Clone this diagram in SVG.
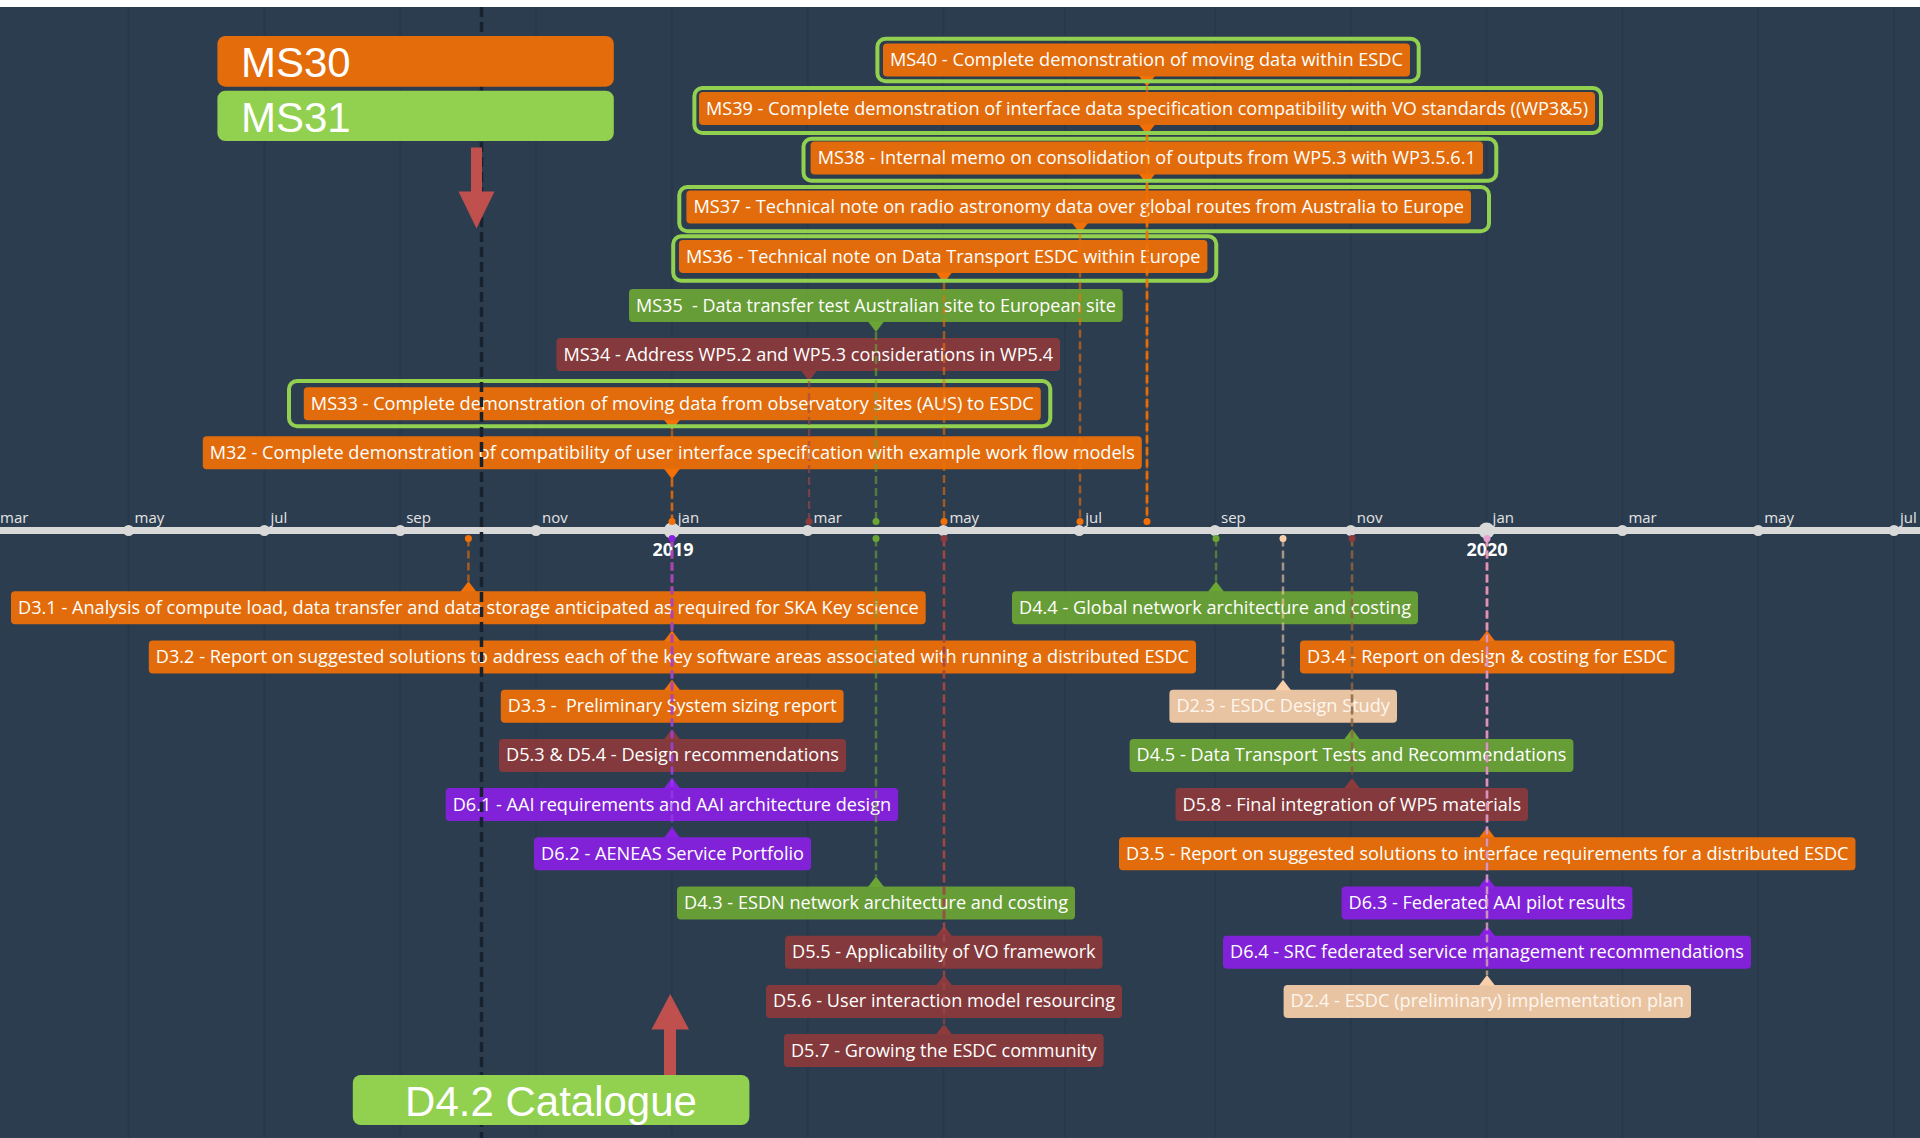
<svg xmlns="http://www.w3.org/2000/svg" width="1920" height="1138" viewBox="0 0 1920 1138">
<style>
.grid{stroke:#27384b;stroke-width:1.5}
.box{fill-opacity:.92}
.o{fill:#f27005}.g{fill:#6ba534}.r{fill:#8c3a3b}.p{fill:#8a20e4}.k{fill:#f9cfaa}
.so{stroke:#f27005}.sg{stroke:#6ba534}.sr{stroke:#a04848}.sp{stroke:#a040ee}.sk{stroke:#f9cfaa}
.lbl{font-family:"Open Sans","DejaVu Sans",sans-serif;font-size:17.5px;fill:#ffffff;text-anchor:middle;white-space:pre}
.lk{fill:#fff6ee}
.hl{fill:none;stroke:#92d050;stroke-width:4}
.conn{stroke-width:2.5;stroke-dasharray:8 4;opacity:.6;fill:none}
.mon{font-family:"Open Sans","DejaVu Sans",sans-serif;font-size:15px;fill:#e4e4e4}
.yr{font-family:"Open Sans","DejaVu Sans",sans-serif;font-size:18px;font-weight:bold;fill:#ffffff;text-anchor:middle}
.tick{fill:#d9d9d9}
.big{font-family:"Liberation Sans",Arial,sans-serif;font-size:42px;fill:#ffffff}
.arrow{fill:#c0504d}
</style>
<rect x="0" y="0" width="1920" height="1138" fill="#2c3d50"/>
<rect x="0" y="0" width="1920" height="7" fill="#ffffff"/>
<g id="grid">
<line class="grid" x1="128.6" y1="7" x2="128.6" y2="1138"/>
<line class="grid" x1="264.4" y1="7" x2="264.4" y2="1138"/>
<line class="grid" x1="400.2" y1="7" x2="400.2" y2="1138"/>
<line class="grid" x1="536" y1="7" x2="536" y2="1138"/>
<line class="grid" x1="671.8" y1="7" x2="671.8" y2="1138"/>
<line class="grid" x1="807.6" y1="7" x2="807.6" y2="1138"/>
<line class="grid" x1="943.4" y1="7" x2="943.4" y2="1138"/>
<line class="grid" x1="1065" y1="7" x2="1065" y2="1138"/>
<line class="grid" x1="1215" y1="7" x2="1215" y2="1138"/>
<line class="grid" x1="1350.8" y1="7" x2="1350.8" y2="1138"/>
<line class="grid" x1="1486.6" y1="7" x2="1486.6" y2="1138"/>
<line class="grid" x1="1622.4" y1="7" x2="1622.4" y2="1138"/>
<line class="grid" x1="1758.2" y1="7" x2="1758.2" y2="1138"/>
<line class="grid" x1="1894" y1="7" x2="1894" y2="1138"/>
</g>
<g id="axis">
<rect x="0" y="527" width="1920" height="7" fill="#d9d9d9"/>
<circle class="tick" cx="-7.2" cy="530.5" r="5.5"/>
<circle class="tick" cx="128.6" cy="530.5" r="5.5"/>
<circle class="tick" cx="264.4" cy="530.5" r="5.5"/>
<circle class="tick" cx="400.2" cy="530.5" r="5.5"/>
<circle class="tick" cx="536" cy="530.5" r="5.5"/>
<circle class="tick" cx="671.8" cy="530.5" r="8"/>
<circle class="tick" cx="807.6" cy="530.5" r="5.5"/>
<circle class="tick" cx="943.4" cy="530.5" r="5.5"/>
<circle class="tick" cx="1079.2" cy="530.5" r="5.5"/>
<circle class="tick" cx="1215" cy="530.5" r="5.5"/>
<circle class="tick" cx="1350.8" cy="530.5" r="5.5"/>
<circle class="tick" cx="1486.6" cy="530.5" r="8"/>
<circle class="tick" cx="1622.4" cy="530.5" r="5.5"/>
<circle class="tick" cx="1758.2" cy="530.5" r="5.5"/>
<circle class="tick" cx="1894" cy="530.5" r="5.5"/>
<text class="mon" x="0" y="523">mar</text>
<text class="mon" x="134.6" y="523">may</text>
<text class="mon" x="270.4" y="523">jul</text>
<text class="mon" x="406.2" y="523">sep</text>
<text class="mon" x="542" y="523">nov</text>
<text class="mon" x="677.8" y="523">jan</text>
<text class="mon" x="813.6" y="523">mar</text>
<text class="mon" x="949.4" y="523">may</text>
<text class="mon" x="1085.2" y="523">jul</text>
<text class="mon" x="1221" y="523">sep</text>
<text class="mon" x="1356.8" y="523">nov</text>
<text class="mon" x="1492.6" y="523">jan</text>
<text class="mon" x="1628.4" y="523">mar</text>
<text class="mon" x="1764.2" y="523">may</text>
<text class="mon" x="1900" y="523">jul</text>
<text class="yr" x="673" y="556">2019</text>
<text class="yr" x="1487" y="556">2020</text>
</g>
<g id="MS40"><rect class="box o" x="883" y="43.5" width="527" height="33" rx="4"/><polygon class="o" points="1139,76 1155,76 1147,86.5"/><text class="lbl" x="1146.5" y="66" textLength="513" lengthAdjust="spacingAndGlyphs">MS40 - Complete demonstration of moving data within ESDC</text><rect class="hl" x="877.4" y="38.7" width="541.3" height="42.6" rx="8"/></g>
<g id="MS39"><rect class="box o" x="699" y="92" width="896" height="33" rx="4"/><polygon class="o" points="1139,124.5 1155,124.5 1147,135"/><text class="lbl" x="1147" y="114.5" textLength="882" lengthAdjust="spacingAndGlyphs">MS39 - Complete demonstration of interface data specification compatibility with VO standards ((WP3&amp;5)</text><rect class="hl" x="694.4" y="88" width="906.6" height="45" rx="8"/></g>
<g id="MS38"><rect class="box o" x="810.6" y="141.5" width="672.4" height="33" rx="4"/><polygon class="o" points="1139,174 1155,174 1147,184.5"/><text class="lbl" x="1146.8" y="164" textLength="658" lengthAdjust="spacingAndGlyphs">MS38 - Internal memo on consolidation of outputs from WP5.3 with WP3.5.6.1</text><rect class="hl" x="803.5" y="138.7" width="692.8" height="42" rx="8"/></g>
<g id="MS37"><rect class="box o" x="686.4" y="190.5" width="784.6" height="33" rx="4"/><polygon class="o" points="1072,223 1088,223 1080,233.5"/><text class="lbl" x="1078.7" y="213" textLength="770.6" lengthAdjust="spacingAndGlyphs">MS37 - Technical note on radio astronomy data over global routes from Australia to Europe</text><rect class="hl" x="679.3" y="187" width="809.7" height="44.3" rx="8"/></g>
<g id="MS36"><rect class="box o" x="679" y="240" width="528.4" height="33" rx="4"/><polygon class="o" points="936,272.5 952,272.5 944,283"/><text class="lbl" x="943.2" y="262.5" textLength="514.4" lengthAdjust="spacingAndGlyphs">MS36 - Technical note on Data Transport ESDC within Europe</text><rect class="hl" x="673.2" y="236.3" width="543.1" height="44.4" rx="8"/></g>
<g id="MS35"><rect class="box g" x="629" y="289" width="493.7" height="33" rx="4"/><polygon class="g" points="868,321.5 884,321.5 876,332"/><text class="lbl" x="875.9" y="311.5" textLength="479.7" lengthAdjust="spacingAndGlyphs" xml:space="preserve">MS35  - Data transfer test Australian site to European site</text></g>
<g id="MS34"><rect class="box r" x="556.4" y="338" width="503.6" height="33" rx="4"/><polygon class="r" points="801,370.5 817,370.5 809,381"/><text class="lbl" x="808.2" y="360.5" textLength="489.6" lengthAdjust="spacingAndGlyphs">MS34 - Address WP5.2 and WP5.3 considerations in WP5.4</text></g>
<g id="MS33"><rect class="box o" x="303.8" y="387.2" width="737" height="33" rx="4"/><polygon class="o" points="664,419.7 680,419.7 672,430.2"/><text class="lbl" x="672.3" y="409.7" textLength="723" lengthAdjust="spacingAndGlyphs">MS33 - Complete demonstration of moving data from observatory sites (AUS) to ESDC</text><rect class="hl" x="289" y="381" width="761.3" height="45.3" rx="8"/></g>
<g id="M32"><rect class="box o" x="202.8" y="436.3" width="939" height="33" rx="4"/><polygon class="o" points="664,468.8 680,468.8 672,479.3"/><text class="lbl" x="672.3" y="458.8" textLength="925" lengthAdjust="spacingAndGlyphs">M32 - Complete demonstration of compatibility of user interface specification with example work flow models</text></g>
<g id="D3.1"><rect class="box o" x="11" y="591.3" width="914.7" height="33" rx="4"/><polygon class="o" points="460.4,591.8 476.4,591.8 468.4,581.3"/><text class="lbl" x="468.4" y="613.8" textLength="900.7" lengthAdjust="spacingAndGlyphs">D3.1 - Analysis of compute load, data transfer and data storage anticipated as required for SKA Key science</text></g>
<g id="D3.2"><rect class="box o" x="148.8" y="640.5" width="1047.2" height="33" rx="4"/><polygon class="o" points="664,641 680,641 672,630.5"/><text class="lbl" x="672.4" y="663" textLength="1033.2" lengthAdjust="spacingAndGlyphs">D3.2 - Report on suggested solutions to address each of the key software areas associated with running a distributed ESDC</text></g>
<g id="D3.3"><rect class="box o" x="500.8" y="689.7" width="342.8" height="33" rx="4"/><polygon class="o" points="664,690.2 680,690.2 672,679.7"/><text class="lbl" x="672.2" y="712.2" textLength="328.8" lengthAdjust="spacingAndGlyphs" xml:space="preserve">D3.3 -  Preliminary System sizing report</text></g>
<g id="D5.3_D5.4"><rect class="box r" x="499" y="738.9" width="347" height="33" rx="4"/><polygon class="r" points="664,739.4 680,739.4 672,728.9"/><text class="lbl" x="672.5" y="761.4" textLength="333" lengthAdjust="spacingAndGlyphs">D5.3 &amp; D5.4 - Design recommendations</text></g>
<g id="D6.1"><rect class="box p" x="445.7" y="788.1" width="452.4" height="33" rx="4"/><polygon class="p" points="664,788.6 680,788.6 672,778.1"/><text class="lbl" x="671.9" y="810.6" textLength="438.4" lengthAdjust="spacingAndGlyphs">D6.1 - AAI requirements and AAI architecture design</text></g>
<g id="D6.2"><rect class="box p" x="534" y="837.3" width="277" height="33" rx="4"/><polygon class="p" points="664,837.8 680,837.8 672,827.3"/><text class="lbl" x="672.5" y="859.8" textLength="263" lengthAdjust="spacingAndGlyphs">D6.2 - AENEAS Service Portfolio</text></g>
<g id="D4.3"><rect class="box g" x="677" y="886.5" width="398" height="33" rx="4"/><polygon class="g" points="868,887 884,887 876,876.5"/><text class="lbl" x="876" y="909" textLength="384" lengthAdjust="spacingAndGlyphs">D4.3 - ESDN network architecture and costing</text></g>
<g id="D5.5"><rect class="box r" x="785" y="935.7" width="317.5" height="33" rx="4"/><polygon class="r" points="936,936.2 952,936.2 944,925.7"/><text class="lbl" x="943.8" y="958.2" textLength="303.5" lengthAdjust="spacingAndGlyphs">D5.5 - Applicability of VO framework</text></g>
<g id="D5.6"><rect class="box r" x="766" y="984.9" width="356" height="33" rx="4"/><polygon class="r" points="936,985.4 952,985.4 944,974.9"/><text class="lbl" x="944" y="1007.4" textLength="342" lengthAdjust="spacingAndGlyphs">D5.6 - User interaction model resourcing</text></g>
<g id="D5.7"><rect class="box r" x="784" y="1034.1" width="319.6" height="33" rx="4"/><polygon class="r" points="936,1034.6 952,1034.6 944,1024.1"/><text class="lbl" x="943.8" y="1056.6" textLength="305.6" lengthAdjust="spacingAndGlyphs">D5.7 - Growing the ESDC community</text></g>
<g id="D4.4"><rect class="box g" x="1012" y="591.3" width="406" height="33" rx="4"/><polygon class="g" points="1208,591.8 1224,591.8 1216,581.3"/><text class="lbl" x="1215" y="613.8" textLength="392" lengthAdjust="spacingAndGlyphs">D4.4 - Global network architecture and costing</text></g>
<g id="D3.4"><rect class="box o" x="1300" y="640.5" width="374.5" height="33" rx="4"/><polygon class="o" points="1479,641 1495,641 1487,630.5"/><text class="lbl" x="1487.3" y="663" textLength="360.5" lengthAdjust="spacingAndGlyphs">D3.4 - Report on design &amp; costing for ESDC</text></g>
<g id="D2.3"><rect class="box k" x="1169.4" y="689.7" width="227.6" height="33" rx="4"/><polygon class="k" points="1275,690.2 1291,690.2 1283,679.7"/><text class="lbl lk" x="1283.2" y="712.2" textLength="213.6" lengthAdjust="spacingAndGlyphs">D2.3 - ESDC Design Study</text></g>
<g id="D4.5"><rect class="box g" x="1129.6" y="738.9" width="443.8" height="33" rx="4"/><polygon class="g" points="1344,739.4 1360,739.4 1352,728.9"/><text class="lbl" x="1351.5" y="761.4" textLength="429.8" lengthAdjust="spacingAndGlyphs">D4.5 - Data Transport Tests and Recommendations</text></g>
<g id="D5.8"><rect class="box r" x="1175.5" y="788.1" width="352.5" height="33" rx="4"/><polygon class="r" points="1344,788.6 1360,788.6 1352,778.1"/><text class="lbl" x="1351.8" y="810.6" textLength="338.5" lengthAdjust="spacingAndGlyphs">D5.8 - Final integration of WP5 materials</text></g>
<g id="D3.5"><rect class="box o" x="1119" y="837.3" width="736.5" height="33" rx="4"/><polygon class="o" points="1479,837.8 1495,837.8 1487,827.3"/><text class="lbl" x="1487.3" y="859.8" textLength="722.5" lengthAdjust="spacingAndGlyphs">D3.5 - Report on suggested solutions to interface requirements for a distributed ESDC</text></g>
<g id="D6.3"><rect class="box p" x="1341.6" y="886.5" width="290.8" height="33" rx="4"/><polygon class="p" points="1479,887 1495,887 1487,876.5"/><text class="lbl" x="1487" y="909" textLength="276.8" lengthAdjust="spacingAndGlyphs">D6.3 - Federated AAI pilot results</text></g>
<g id="D6.4"><rect class="box p" x="1223" y="935.7" width="528" height="33" rx="4"/><polygon class="p" points="1479,936.2 1495,936.2 1487,925.7"/><text class="lbl" x="1487" y="958.2" textLength="514" lengthAdjust="spacingAndGlyphs">D6.4 - SRC federated service management recommendations</text></g>
<g id="D2.4"><rect class="box k" x="1283.6" y="984.9" width="407.4" height="33" rx="4"/><polygon class="k" points="1479,985.4 1495,985.4 1487,974.9"/><text class="lbl lk" x="1487.3" y="1007.4" textLength="393.4" lengthAdjust="spacingAndGlyphs">D2.4 - ESDC (preliminary) implementation plan</text></g>
<g id="connectors">
<line class="conn so" x1="1147" y1="86.5" x2="1147" y2="521.5"/>
<line class="conn so" x1="1147" y1="135" x2="1147" y2="521.5"/>
<line class="conn so" x1="1147" y1="184.5" x2="1147" y2="521.5"/>
<line class="conn so" x1="1080" y1="233.5" x2="1080" y2="521.5"/>
<line class="conn so" x1="944" y1="283" x2="944" y2="521.5"/>
<line class="conn sg" x1="876" y1="332" x2="876" y2="521.5"/>
<line class="conn sr" x1="809" y1="381" x2="809" y2="521.5"/>
<line class="conn so" x1="672" y1="430.2" x2="672" y2="521.5"/>
<line class="conn so" x1="672" y1="479.3" x2="672" y2="521.5"/>
<line class="conn so" x1="468.4" y1="538.5" x2="468.4" y2="581.3"/>
<line class="conn so" x1="672" y1="538.5" x2="672" y2="630.5"/>
<line class="conn so" x1="672" y1="538.5" x2="672" y2="679.7"/>
<line class="conn sr" x1="672" y1="538.5" x2="672" y2="728.9"/>
<line class="conn sp" x1="672" y1="538.5" x2="672" y2="778.1"/>
<line class="conn sp" x1="672" y1="538.5" x2="672" y2="827.3"/>
<line class="conn sg" x1="876" y1="538.5" x2="876" y2="876.5"/>
<line class="conn sr" x1="944" y1="538.5" x2="944" y2="925.7"/>
<line class="conn sr" x1="944" y1="538.5" x2="944" y2="974.9"/>
<line class="conn sr" x1="944" y1="538.5" x2="944" y2="1024.1"/>
<line class="conn sg" x1="1216" y1="538.5" x2="1216" y2="581.3"/>
<line class="conn so" x1="1487" y1="538.5" x2="1487" y2="630.5"/>
<line class="conn sk" x1="1283" y1="538.5" x2="1283" y2="679.7"/>
<line class="conn sg" x1="1352" y1="538.5" x2="1352" y2="728.9"/>
<line class="conn sr" x1="1352" y1="538.5" x2="1352" y2="778.1"/>
<line class="conn so" x1="1487" y1="538.5" x2="1487" y2="827.3"/>
<line class="conn sp" x1="1487" y1="538.5" x2="1487" y2="876.5"/>
<line class="conn sp" x1="1487" y1="538.5" x2="1487" y2="925.7"/>
<line class="conn sk" x1="1487" y1="538.5" x2="1487" y2="974.9"/>
<circle class="o" cx="1147" cy="521.5" r="3.5"/>
<circle class="o" cx="1080" cy="521.5" r="3.5"/>
<circle class="o" cx="944" cy="521.5" r="3.5"/>
<circle class="g" cx="876" cy="521.5" r="3.5"/>
<circle class="r" cx="809" cy="521.5" r="3.5"/>
<circle class="o" cx="672" cy="521.5" r="3.5"/>
<circle class="o" cx="468.4" cy="538.5" r="3.5"/>
<circle class="p" cx="672" cy="538.5" r="3.5"/>
<circle class="g" cx="876" cy="538.5" r="3.5"/>
<circle class="r" cx="944" cy="538.5" r="3.5"/>
<circle class="g" cx="1216" cy="538.5" r="3.5"/>
<circle class="k" cx="1283" cy="538.5" r="3.5"/>
<circle class="r" cx="1352" cy="538.5" r="3.5"/>
<circle fill="#e8a0d0" cx="1487" cy="538.5" r="3.5"/>
</g>
<line id="today" x1="481.5" y1="7" x2="481.5" y2="1138" stroke="#18222e" stroke-width="3.5" stroke-dasharray="10 5"/>
<g id="arrow-down"><rect class="arrow" x="471" y="147.5" width="11" height="45"/><polygon class="arrow" points="458.5,191.5 494.5,191.5 476.5,228.5"/></g>
<g id="arrow-up"><rect class="arrow" x="664" y="1028" width="12" height="47"/><polygon class="arrow" points="651.5,1029.5 689,1029.5 670.2,994"/></g>
<g id="MS30"><rect x="217.4" y="36" width="396.4" height="50.7" rx="8" fill="#e46c0a"/><text class="big" x="241" y="77">MS30</text></g>
<g id="MS31"><rect x="217.4" y="90.7" width="396.4" height="50.3" rx="8" fill="#92d050"/><text class="big" x="241" y="131.5">MS31</text></g>
<g id="D4.2"><rect x="352.8" y="1075" width="396.6" height="50" rx="8" fill="#92d050"/><text class="big" x="551" y="1115.5" text-anchor="middle">D4.2 Catalogue</text></g>
</svg>
